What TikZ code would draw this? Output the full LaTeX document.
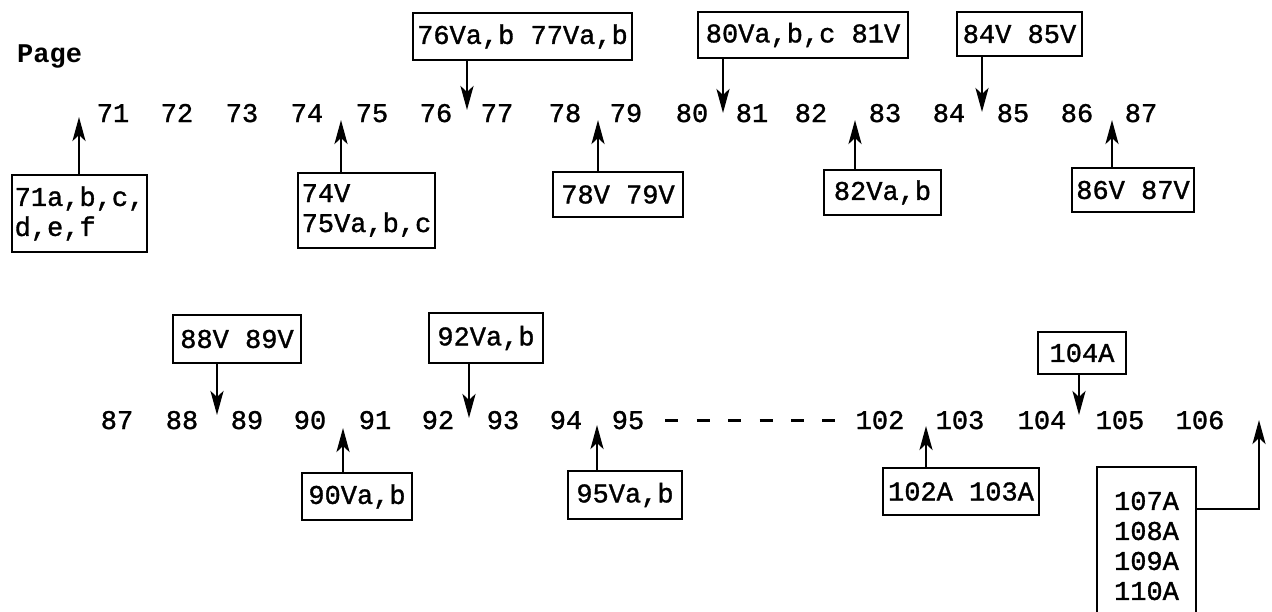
\documentclass[tikz,border=0pt]{standalone}
\usepackage{fontspec}
\setmonofont{Liberation Mono}
\newfontfamily\twf{Liberation Mono}[FakeBold=1.2]
\usetikzlibrary{arrows.meta}
\begin{document}
\begin{tikzpicture}[x=1pt,y=-1pt,
  num/.style={font=\fontsize{27}{30}\selectfont\twf, inner sep=0pt, anchor=base},
  lbl/.style={draw, line width=2.2pt, font=\fontsize{27}{30}\selectfont\twf, inner xsep=2pt, inner ysep=3pt, align=left},
  arr/.style={line width=2.8pt, -{Stealth[length=24pt,width=13pt,inset=6pt]}},
  dashline/.style={line width=3pt, dash pattern=on 13pt off 18.4pt, shorten <=21pt, shorten >=21pt}
]
\useasboundingbox (0,0) rectangle (1272,611);
\clip (0,0) rectangle (1272,611);

\node[num, anchor=base west, font=\fontsize{27}{30}\selectfont\ttfamily\bfseries] (page) at (17,62) {Page};

% row 1 numbers
\foreach \n/\x in {71/113,72/177,73/242,74/307,75/372,76/436,77/497,78/565,79/626,80/692,81/752,82/811,83/885,84/949,85/1013,86/1077,87/1141}
  \node[num] (ra\n) at (\x,122) {\n};

% row 2 numbers
\foreach \n/\x in {87/117,88/182,89/247,90/310,91/375,92/438,93/503,94/566,95/628,102/880,103/960,104/1042,105/1120,106/1200}
  \node[num] (rb\n) at (\x,429) {\n};

\draw[dashline] (rb95.east) -- (rb102.west);

% boxes row 1
\node[lbl, minimum width=135pt, minimum height=77pt] (b71) at (79.5,213.5) {71a,b,c,\\d,e,f};
\node[lbl, minimum width=137pt, minimum height=75pt] (b74) at (366.5,210.5) {74V\\75Va,b,c};
\node[lbl, minimum width=219pt, minimum height=47pt] (b76) at (522.5,36.5) {76Va,b 77Va,b};
\node[lbl, minimum width=130pt, minimum height=45pt] (b78) at (618,194.5) {78V 79V};
\node[lbl, minimum width=210pt, minimum height=46pt] (b80) at (803,35) {80Va,b,c 81V};
\node[lbl, minimum width=117pt, minimum height=45pt] (b82) at (882.5,192.5) {82Va,b};
\node[lbl, minimum width=125pt, minimum height=44pt] (b84) at (1019.5,34) {84V 85V};
\node[lbl, minimum width=122pt, minimum height=44pt] (b86) at (1133,190) {86V 87V};

% boxes row 2
\node[lbl, minimum width=128pt, minimum height=48pt] (b88) at (237,339) {88V 89V};
\node[lbl, minimum width=110pt, minimum height=47pt] (b90) at (357,496.5) {90Va,b};
\node[lbl, minimum width=114pt, minimum height=50pt] (b92) at (486,338) {92Va,b};
\node[lbl, minimum width=114pt, minimum height=48pt] (b95) at (625,495) {95Va,b};
\node[lbl, minimum width=156pt, minimum height=47pt] (b102) at (961,491.5) {102A 103A};
\node[lbl, minimum width=88pt, minimum height=42pt] (b104) at (1082,353) {104A};
\node[lbl, minimum width=99pt, minimum height=158pt] (b107) at (1146.5,546) {107A\\108A\\109A\\110A};

% arrow tips
\coordinate (a71) at (79,117);
\coordinate (a74) at (341,120);
\coordinate (a76) at (467,110);
\coordinate (a78) at (598,120);
\coordinate (a80) at (723,113);
\coordinate (a82) at (855,120);
\coordinate (a84) at (982,112);
\coordinate (a86) at (1112,120);
\coordinate (a88) at (217,415);
\coordinate (a90) at (343,428);
\coordinate (a92) at (469,418);
\coordinate (a95) at (597,425);
\coordinate (a102) at (926,426);
\coordinate (a104) at (1079,415);
\coordinate (a106) at (1259,420);

\draw[arr] (b71.north -| a71) -- (a71);
\draw[arr] (b74.north -| a74) -- (a74);
\draw[arr] (b76.south -| a76) -- (a76);
\draw[arr] (b78.north -| a78) -- (a78);
\draw[arr] (b80.south -| a80) -- (a80);
\draw[arr] (b82.north -| a82) -- (a82);
\draw[arr] (b84.south -| a84) -- (a84);
\draw[arr] (b86.north -| a86) -- (a86);
\draw[arr] (b88.south -| a88) -- (a88);
\draw[arr] (b90.north -| a90) -- (a90);
\draw[arr] (b92.south -| a92) -- (a92);
\draw[arr] (b95.north -| a95) -- (a95);
\draw[arr] (b102.north -| a102) -- (a102);
\draw[arr] (b104.south -| a104) -- (a104);
\draw[arr] ([yshift=-43pt]b107.north east) -| (a106);
\end{tikzpicture}
\end{document}
